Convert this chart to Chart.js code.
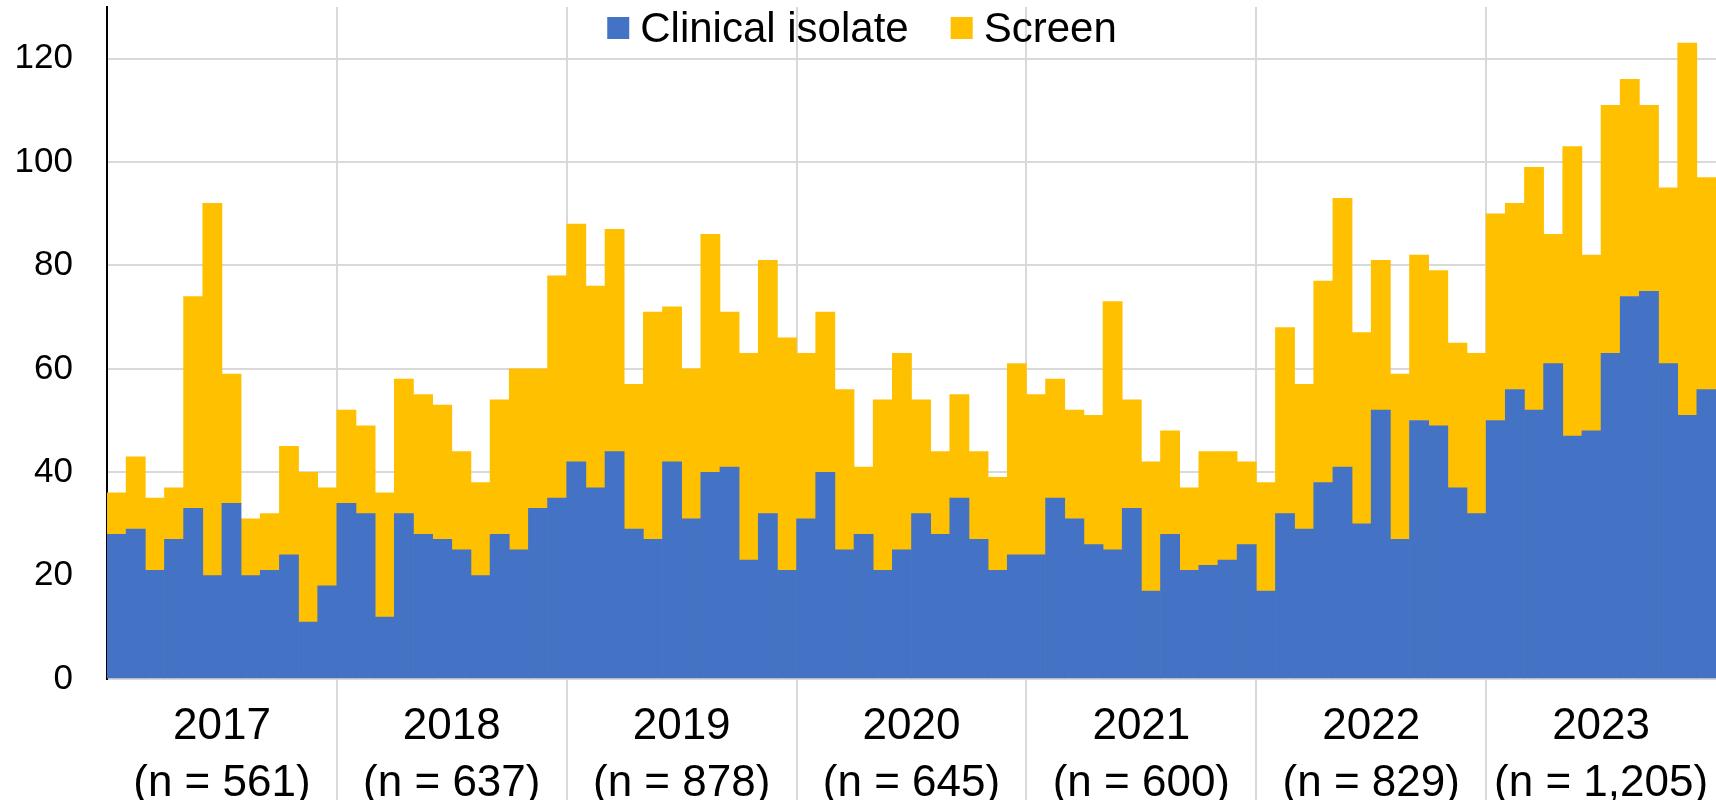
<!DOCTYPE html>
<html>
<head>
<meta charset="utf-8">
<script src="https://cdn.jsdelivr.net/npm/chart.js@4.4.1/dist/chart.umd.min.js"></script>
<style>
  body { margin: 0; background: #fff; }
  #wrap { width: 1716px; height: 800px; }
</style>
</head>
<body>
<div id="wrap"><canvas id="isolateChart"></canvas></div>
<script>
const years = ['2017', '2018', '2019', '2020', '2021', '2022', '2023'];
const yearCounts = ['561', '637', '878', '645', '600', '829', '1,205'];
const months = ['Jan', 'Feb', 'Mar', 'Apr', 'May', 'Jun', 'Jul', 'Aug', 'Sep', 'Oct', 'Nov', 'Dec'];

// monthly counts, Jan 2017 .. Dec 2023
const clinical = [
  28, 29, 21, 27, 33, 20, 34, 20, 21, 24, 11, 18,
  34, 32, 12, 32, 28, 27, 25, 20, 28, 25, 33, 35,
  42, 37, 44, 29, 27, 42, 31, 40, 41, 23, 32, 21,
  31, 40, 25, 28, 21, 25, 32, 28, 35, 27, 21, 24,
  24, 35, 31, 26, 25, 33, 17, 28, 21, 22, 23, 26,
  17, 32, 29, 38, 41, 30, 52, 27, 50, 49, 37, 32,
  50, 56, 52, 61, 47, 48, 63, 74, 75, 61, 51, 56
];
const screen = [
   8, 14, 14, 10, 41, 72, 25, 11, 11, 21, 29, 19,
  18, 17, 24, 26, 27, 26, 19, 18, 26, 35, 27, 43,
  46, 39, 43, 28, 44, 30, 29, 46, 30, 40, 49, 45,
  32, 31, 31, 13, 33, 38, 22, 16, 20, 17, 18, 37,
  31, 23, 21, 25, 48, 21, 25, 20, 16, 22, 21, 16,
  21, 36, 28, 39, 52, 37, 29, 32, 32, 30, 28, 31,
  40, 36, 47, 25, 56, 34, 48, 42, 36, 34, 72, 41
];

const yTicks = [0, 20, 40, 60, 80, 100, 120];

const monthLabels = years.flatMap(y => months.map(m => m + ' ' + y));
const yearLabels = years.map((y, i) => [y, '(n = ' + yearCounts[i] + ')']);

const fontFamily = '"Liberation Sans", Arial, sans-serif';
const gridColor = '#d9d9d9';

// legend drawn over the top of the plot, like the original
const topLegend = {
  id: 'topLegend',
  afterDraw(chart) {
    const ctx = chart.ctx;
    ctx.save();
    ctx.font = '42px ' + fontFamily;
    ctx.textBaseline = 'alphabetic';
    const items = chart.data.datasets.map(ds => ({
      label: ds.label,
      color: ds.backgroundColor,
      w: ctx.measureText(ds.label).width
    }));
    let total = 0;
    items.forEach((it, i) => { total += 22 + 11 + it.w + (i > 0 ? 42 : 0); });
    let x = chart.width / 2 + 4 - total / 2;
    items.forEach(it => {
      ctx.fillStyle = it.color;
      ctx.fillRect(x, 17, 22, 22);
      ctx.fillStyle = '#000';
      ctx.fillText(it.label, x + 33, 42);
      x += 33 + it.w + 42;
    });
    ctx.restore();
  }
};

const ctx = document.getElementById('isolateChart').getContext('2d');
let isolateChart = new Chart(ctx, {
  type: 'bar',
  data: {
    labels: monthLabels,
    datasets: [{
      label: 'Clinical isolate',
      data: clinical,
      backgroundColor: '#4472c4',
      barPercentage: 1,
      categoryPercentage: 1
    }, {
      label: 'Screen',
      data: screen,
      backgroundColor: '#ffc000',
      barPercentage: 1,
      categoryPercentage: 1
    }]
  },
  options: {
    responsive: true,
    maintainAspectRatio: false,
    animation: false,
    layout: { padding: { top: 7, left: 0, right: 0, bottom: 0 } },
    plugins: {
      legend: { display: false },
      tooltip: { enabled: false }
    },
    scales: {
      x: {
        stacked: true,
        display: false
      },
      x2: {
        type: 'category',
        labels: yearLabels,
        position: 'bottom',
        offset: true,
        z: 1,
        grid: {
          offset: true,
          drawTicks: true,
          tickLength: 121,
          lineWidth: 2,
          color: c => (c.index === undefined || c.index === 0) ? 'rgba(0,0,0,0)' : gridColor
        },
        border: { display: true, color: gridColor, width: 2 },
        ticks: {
          maxRotation: 0,
          autoSkip: false,
          padding: -101,
          color: '#000',
          font: { family: fontFamily, size: 44, lineHeight: 1.28 }
        },
        afterFit: s => { s.height = 121; }
      },
      y: {
        stacked: true,
        min: 0,
        max: 130,
        afterBuildTicks: s => { s.ticks = yTicks.map(v => ({ value: v })); },
        grid: { color: gridColor, lineWidth: 2, drawTicks: false },
        border: { display: true, color: '#000', width: 2 },
        ticks: {
          padding: 34,
          color: '#000',
          font: { family: fontFamily, size: 35 }
        },
        afterFit: s => {
          s.width = 107;
          s.paddingTop = 0;
          s.paddingBottom = 0;
        }
      }
    }
  },
  plugins: [topLegend]
});
</script>
</body>
</html>
